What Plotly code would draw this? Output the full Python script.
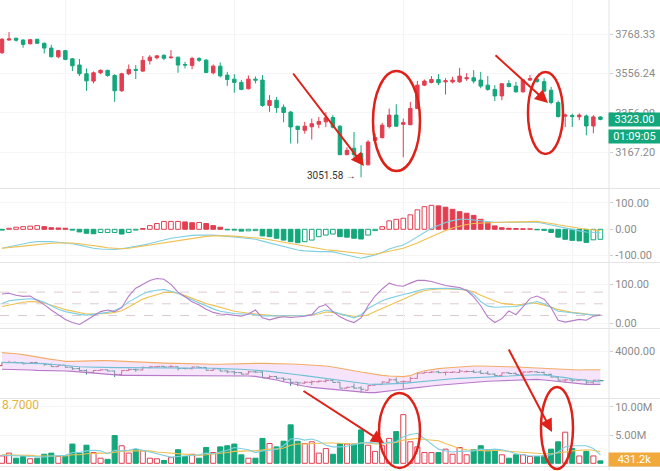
import plotly.graph_objects as go
import numpy as np

# ---------------- data ----------------
idx = list(range(86))

opens = [3666,3735,3745,3735,3715,3739,3717,3691,3644,3677,
         3633,3600,3554,3516,3559,3572,3545,3466,3554,3577,
         3568,3623,3639,3652,3639,3642,3603,3598,3635,3626,
         3559,3594,3547,3526,3509,3476,3526,3521,3392,3418,
         3383,3359,3290,3270,3287,3299,3311,3332,3290,3155,
         3185,3160,3108,3222,3235,3288,3344,3299,3297,3377,
         3495,3509,3524,3512,3512,3512,3528,3533,3521,3495,
         3473,3440,3503,3490,3461,3521,3526,3513,3469,3406,
         3339,3342,3336,3340,3291,3335]
highs = [3746,3779,3748,3739,3741,3742,3722,3709,3680,3680,
         3637,3632,3582,3566,3577,3575,3552,3559,3603,3600,
         3648,3653,3653,3657,3680,3644,3617,3644,3642,3632,
         3603,3614,3564,3552,3521,3545,3540,3547,3444,3434,
         3397,3365,3290,3311,3327,3335,3358,3344,3295,3189,
         3262,3199,3223,3254,3306,3377,3398,3327,3410,3517,
         3524,3542,3552,3531,3538,3585,3557,3573,3564,3542,
         3495,3504,3521,3512,3526,3547,3542,3531,3486,3417,
         3352,3352,3353,3347,3344,3339]
lows = [3659,3732,3726,3693,3711,3713,3662,3641,3636,3626,
        3568,3542,3466,3504,3552,3538,3410,3461,3547,3526,
        3564,3603,3630,3626,3635,3559,3582,3578,3617,3557,
        3551,3535,3491,3456,3469,3473,3504,3385,3360,3355,
        3309,3207,3207,3254,3226,3280,3285,3279,3152,3152,
        3141,3051.58,3106,3214,3231,3279,3287,3143,3295,3376,
        3490,3504,3495,3447,3504,3507,3517,3504,3479,3466,
        3414,3418,3484,3456,3456,3517,3507,3458,3398,3332,
        3286,3286,3319,3246,3256,3319]
closes = [3739,3741,3734,3711,3737,3717,3691,3644,3677,3630,
          3596,3554,3517,3559,3572,3545,3466,3554,3577,3572,
          3625,3642,3649,3636,3642,3600,3600,3635,3625,3561,
          3594,3543,3524,3509,3473,3526,3521,3392,3417,3381,
          3357,3286,3274,3290,3302,3313,3331,3285,3155,3175,
          3155,3129,3214,3235,3295,3344,3290,3307,3377,3495,
          3516,3524,3507,3517,3521,3542,3533,3516,3490,3473,
          3440,3502,3488,3461,3522,3529,3514,3464,3407,3337,
          3344,3337,3344,3291,3335,3323]

price_ticks = [3167.20, 3356.09, 3556.24, 3768.33]
price_tick_text = ["3167.20", "3356.09", "3556.24", "3768.33"]

macd_hist = [-3,4,8,10,12,14,10,6,5,4,
             -3,-10,-15,-17,-12,-12,-12,-18,-12,-3,
             3,14,22,30,30,30,28,25,26,22,
             14,8,-2,-3,-7,-6,-5,-25,-28,-34,
             -41,-47,-51,-47,-41,-28,-22,-18,-28,-30,
             -34,-37,-22,-5,10,32,38,42,55,74,
             86,91,89,84,76,67,61,53,38,27,
             13,6,4,3,2,2,-2,-4,-12,-30,
             -38,-42,-44,-50,-40,-38]
macd_dif = [-72,-66,-60,-55,-50,-47,-46,-47,-49,-51,
            -55,-60,-66,-72,-75,-76,-77,-74,-70,-65,
            -60,-54,-47,-40,-34,-30,-26,-23,-22,-21,
            -22,-24,-26,-29,-32,-35,-38,-45,-52,-60,
            -66,-74,-79,-82,-84,-85,-85,-86,-92,-98,
            -104,-110,-104,-98,-88,-75,-66,-60,-45,-30,
            -12,4,15,26,33,38,38,35,33,30,
            27,27,27,27,28,29,27,22,16,10,
            4,-2,-6,-10,-12,-13]
macd_dea = [-72,-70,-67,-64,-61,-58,-55,-53,-52,-51,
            -52,-55,-58,-62,-66,-70,-73,-74,-72,-68,
            -64,-60,-55,-50,-46,-42,-38,-34,-30,-27,
            -25,-24,-25,-26,-28,-30,-32,-35,-40,-45,
            -50,-55,-60,-65,-70,-74,-78,-80,-83,-86,
            -90,-93,-95,-95,-90,-84,-78,-72,-63,-52,
            -40,-28,-15,-5,5,12,18,22,24,26,
            26,27,27,27,28,29,30,27,22,17,
            12,8,4,0,-3,-5]
macd_ticks = [-100, 0, 100]
macd_tick_text = ["-100.00", "0.00", "100.00"]

kdj_k = [51,58,60,61,63,60,54,45,36,30,
         26,23,21,23,26,28,33,41,55,66,
         75,82,85,87,82,77,68,60,51,43,
         37,31,28,25,24,24,22,19,19,19,
         19,19,19,20,22,28,34,30,24,19,
         14,22,38,48,58,64,70,74,78,83,
         88,89,90,90,89,88,86,74,56,44,
         41,42,43,43,47,51,56,50,40,31,
         29,27,25,23,21,21]
kdj_d = [43,47,51,54,56,55,52,47,41,35,
         31,27,24,24,24,25,28,32,42,53,
         62,68,73,79,80,77,71,64,57,51,
         46,40,36,31,28,26,24,22,20,19,
         19,19,19,20,22,24,29,28,24,21,
         18,18,22,30,38,47,55,63,71,78,
         84,86,88,88,88,87,85,81,72,64,
         57,51,49,47,49,52,51,47,42,35,
         31,28,26,23,21,21]
kdj_j = [75,77,72,69,70,60,48,34,22,10,
         2,-3,8,18,30,34,30,40,70,90,
         100,110,115,113,100,80,68,55,47,36,
         28,24,23,20,18,24,34,14,9,14,
         17,15,17,18,22,42,48,30,17,8,
         2,14,45,70,88,103,97,95,103,110,
         110,107,102,97,94,92,84,68,45,16,
         2,12,32,22,42,64,70,62,40,8,
         3,6,10,8,18,21]
kdj_ticks = [0, 100]
kdj_tick_text = ["0.00", "100.00"]
kdj_levels = [20, 50, 80]

boll_upper = [3962,3954,3939,3917,3886,3856,3833,3810,3788,3765,
              3765,3772,3780,3780,3780,3780,3772,3765,3757,3757,
              3750,3742,3734,3727,3719,3719,3712,3704,3697,3697,
              3697,3697,3704,3712,3719,3719,3719,3719,3719,3719,
              3712,3704,3697,3689,3681,3674,3659,3636,3613,3583,
              3552,3522,3492,3469,3446,3431,3416,3416,3439,3507,
              3552,3583,3598,3613,3628,3643,3651,3659,3659,3659,
              3659,3651,3643,3636,3628,3621,3613,3598,3583,3575,
              3568,3568,3568,3575,3575,3575]
boll_mid = [3742,3742,3734,3727,3719,3719,3712,3697,3681,3666,
            3651,3643,3636,3628,3628,3628,3621,3621,3621,3621,
            3621,3621,3621,3621,3613,3613,3613,3613,3606,3606,
            3606,3598,3598,3590,3583,3575,3568,3552,3537,3522,
            3507,3484,3461,3439,3416,3393,3370,3348,3325,3302,
            3279,3264,3249,3241,3241,3249,3257,3264,3279,3302,
            3325,3340,3355,3363,3370,3378,3386,3393,3401,3408,
            3416,3423,3431,3439,3446,3454,3461,3454,3439,3416,
            3393,3370,3348,3325,3310,3295]
boll_lower = [3583,3583,3575,3568,3568,3560,3560,3552,3552,3545,
              3537,3522,3507,3492,3477,3461,3454,3446,3446,3446,
              3446,3446,3446,3446,3446,3446,3446,3446,3446,3439,
              3439,3439,3439,3431,3431,3431,3423,3401,3370,3340,
              3302,3264,3226,3196,3173,3158,3143,3128,3105,3082,
              3067,3052,3052,3052,3067,3082,3105,3128,3150,3173,
              3188,3203,3219,3234,3249,3264,3279,3295,3302,3310,
              3317,3325,3332,3340,3348,3355,3355,3340,3325,3302,
              3279,3264,3249,3241,3241,3241]
mini_ticks = [4000]
mini_tick_text = ["4000.00"]

volume_m = [1.3,1.8,0.9,1.2,0.8,0.9,1.6,1.8,1.2,1.3,
            3.4,1.8,3.2,1.9,0.9,0.7,4.9,3.1,1.8,2.4,
            2.2,0.9,0.8,0.5,1.0,2.4,1.2,1.6,0.9,2.8,
            1.9,2.9,3.1,3.4,1.5,0.9,0.9,4.4,3.5,2.9,
            3.9,6.8,3.9,3.5,3.8,1.8,2.6,1.6,3.5,3.4,
            3.4,5.9,3.2,2.1,3.1,4.4,5.6,8.6,3.8,2.9,
            1.9,1.9,1.9,2.5,1.6,2.8,1.5,2.4,3.1,2.4,
            2.4,1.5,0.9,1.5,1.5,1.2,1.2,1.3,2.5,3.8,
            5.5,2.6,1.3,2.1,1.3,0.4312]
vol_ma_fast = [1.4,1.4,1.3,1.3,1.2,1.1,1.1,1.3,1.3,1.4,
               1.9,1.9,2.2,2.3,2.2,1.7,2.3,2.2,2.3,2.6,
               2.3,2.0,1.6,1.3,1.1,1.2,1.3,1.3,1.5,1.8,
               1.7,2.0,2.3,2.8,2.6,2.4,1.9,2.2,2.3,2.5,
               3.1,4.3,4.4,4.1,4.3,3.9,3.2,2.9,2.9,3.0,
               3.3,3.6,3.7,3.6,3.5,3.7,3.8,4.7,5.1,5.3,
               4.4,3.4,2.5,2.2,2.0,2.1,2.1,2.2,2.5,2.4,
               2.5,2.4,2.1,1.7,1.5,1.3,1.3,1.3,1.5,2.0,
               2.9,3.1,3.1,3.1,2.6,1.5]
vol_ma_slow = [1.5,1.5,1.4,1.4,1.4,1.3,1.3,1.3,1.3,1.3,
               1.5,1.5,1.7,1.8,1.8,1.8,2.0,2.1,2.2,2.2,
               2.2,2.2,2.0,1.9,1.8,1.7,1.5,1.4,1.4,1.5,
               1.6,1.7,1.9,2.1,2.2,2.2,2.2,2.4,2.5,2.5,
               2.7,3.2,3.4,3.4,3.5,3.6,3.6,3.6,3.5,3.5,
               3.4,3.6,3.6,3.4,3.4,3.6,3.7,4.1,4.3,4.4,
               4.2,4.1,4.0,3.5,3.0,2.6,2.4,2.3,2.3,2.2,
               2.3,2.2,2.1,2.0,1.9,1.8,1.8,1.7,1.7,1.8,
               2.0,2.2,2.3,2.4,2.3,2.1]
vol_ticks = [5e6, 10e6]
vol_tick_text = ["5.00M", "10.00M"]

last_price_text = "3323.00"
countdown_text = "01:09:05"
last_volume_text = "431.2k"
low_label_text = "3051.58 \u2192"
vol_header_text = "8.7000"

# ---------------- styles ----------------
RED = "#e23e50"
GREEN = "#13a77b"
CYAN = "#7fcfe3"
YELLOW = "#f0c050"
PURPLE = "#b77ac9"
ORANGE_BAND = "#f3ad6a"
ANN_RED = "#de2119"
GRID = "#f3f3f3"
SEP = "#e4e4e4"
TICKC = "#8c8c8c"
FONT = "Roboto"

W, H = 660, 471
PW, PH = 609, 467  # plot area in px


def py(p):
    return (PH - p) / PH


def px(p):
    return p / PW


vol = [v * 1e6 for v in volume_m]
vfast = [v * 1e6 for v in vol_ma_fast]
vslow = [v * 1e6 for v in vol_ma_slow]
up = [c >= o for o, c in zip(opens, closes)]

fig = go.Figure()

# main candles
fig.add_trace(go.Candlestick(
    x=idx, open=opens, high=highs, low=lows, close=closes,
    increasing=dict(line=dict(color=RED, width=1), fillcolor=RED),
    decreasing=dict(line=dict(color=GREEN, width=1), fillcolor=GREEN),
    whiskerwidth=0, xaxis="x", yaxis="y", hoverinfo="skip"))

# MACD histogram
m_fill, m_line = [], []
prev = None
for v in macd_hist:
    col = RED if v >= 0 else GREEN
    filled = prev is None or v < prev
    m_fill.append(col if filled else "white")
    m_line.append(col)
    prev = v
fig.add_trace(go.Bar(x=idx, y=macd_hist, width=0.66,
                     marker=dict(color=m_fill, line=dict(color=m_line, width=1)),
                     xaxis="x2", yaxis="y2", hoverinfo="skip"))
fig.add_trace(go.Scatter(x=idx, y=macd_dif, mode="lines", line=dict(color=CYAN, width=1.1),
                         xaxis="x2", yaxis="y2", hoverinfo="skip"))
fig.add_trace(go.Scatter(x=idx, y=macd_dea, mode="lines", line=dict(color=YELLOW, width=1.1),
                         xaxis="x2", yaxis="y2", hoverinfo="skip"))

# KDJ
fig.add_trace(go.Scatter(x=idx, y=kdj_d, mode="lines", line=dict(color=YELLOW, width=1.1),
                         xaxis="x3", yaxis="y3", hoverinfo="skip"))
fig.add_trace(go.Scatter(x=idx, y=kdj_k, mode="lines", line=dict(color=CYAN, width=1.1),
                         xaxis="x3", yaxis="y3", hoverinfo="skip"))
fig.add_trace(go.Scatter(x=idx, y=kdj_j, mode="lines", line=dict(color=PURPLE, width=1.1),
                         xaxis="x3", yaxis="y3", hoverinfo="skip"))

# Bollinger + mini OHLC
fig.add_trace(go.Scatter(x=idx, y=boll_upper, mode="lines", line=dict(color=ORANGE_BAND, width=1.1),
                         xaxis="x4", yaxis="y4", hoverinfo="skip"))
fig.add_trace(go.Scatter(x=idx, y=boll_lower, mode="lines", line=dict(color=PURPLE, width=1.1),
                         fill="tonexty", fillcolor="rgba(232,190,242,0.40)",
                         xaxis="x4", yaxis="y4", hoverinfo="skip"))
fig.add_trace(go.Scatter(x=idx, y=boll_mid, mode="lines", line=dict(color="#6fc0d6", width=1.1),
                         xaxis="x4", yaxis="y4", hoverinfo="skip"))
fig.add_trace(go.Ohlc(x=idx, open=opens, high=highs, low=lows, close=closes,
                      increasing=dict(line=dict(color="#b54565", width=1)),
                      decreasing=dict(line=dict(color="#2b7f74", width=1)),
                      tickwidth=0.45, xaxis="x4", yaxis="y4", hoverinfo="skip"))

# volume
v_fill = ["white" if u else GREEN for u in up]
v_line = [RED if u else GREEN for u in up]
fig.add_trace(go.Bar(x=idx, y=vol, width=0.72,
                     marker=dict(color=v_fill, line=dict(color=v_line, width=1)),
                     xaxis="x5", yaxis="y5", hoverinfo="skip"))
fig.add_trace(go.Scatter(x=idx, y=vslow, mode="lines", line=dict(color=YELLOW, width=1.1),
                         xaxis="x5", yaxis="y5", hoverinfo="skip"))
fig.add_trace(go.Scatter(x=idx, y=vfast, mode="lines", line=dict(color=CYAN, width=1.1),
                         xaxis="x5", yaxis="y5", hoverinfo="skip"))

# ---------------- layout ----------------
xr = [-0.284, 86.22]
xcommon = dict(range=xr, showticklabels=False, showgrid=True, gridcolor=GRID,
               tickvals=[9, 33, 57, 81], zeroline=False, showline=False,
               rangeslider=dict(visible=False), fixedrange=True)
ycommon = dict(side="right", showgrid=True, gridcolor="#f6f6f6", zeroline=False,
               showline=False, ticks="outside", ticklen=3, tickcolor="#cfcfcf",
               tickfont=dict(family=FONT, size=11, color=TICKC), fixedrange=True)

lay = dict(width=W, height=H, margin=dict(l=0, r=W - PW, t=0, b=H - PH),
           paper_bgcolor="white", plot_bgcolor="white", showlegend=False,
           barmode="overlay", font=dict(family=FONT))

doms = {
    "": [py(188), 1.0],
    "2": [py(262), py(189)],
    "3": [py(328), py(263)],
    "4": [py(398), py(329)],
    "5": [0.0, py(398)],
}
for k, d in doms.items():
    xa = dict(xcommon, domain=[0, 1], anchor="y" + k)
    if k:
        xa["matches"] = "x"
    lay["xaxis" + k] = xa
    lay["yaxis" + k] = dict(ycommon, domain=d, anchor="x" + k)

lay["yaxis"].update(type="log", range=[3.477655, 3.597900],
                    tickvals=price_ticks, ticktext=price_tick_text)
lay["yaxis2"].update(range=[-124.3, 153.2], tickvals=macd_ticks, ticktext=macd_tick_text)
lay["yaxis3"].update(range=[-12, 154.6], tickvals=kdj_ticks, ticktext=kdj_tick_text)
lay["yaxis4"].update(range=[2930.4, 4500.7], tickvals=mini_ticks, ticktext=mini_tick_text)
lay["yaxis5"].update(range=[-0.654e6, 11.54e6], tickvals=vol_ticks, ticktext=vol_tick_text)

fig.update_layout(**lay)

shapes = []
# panel separators
for p in [188.5, 262.5, 328.5, 398.5]:
    shapes.append(dict(type="line", xref="paper", yref="paper", x0=0, x1=W / PW,
                       y0=py(p), y1=py(p), line=dict(color=SEP, width=1)))
shapes.append(dict(type="line", xref="paper", yref="paper", x0=0, x1=W / PW,
                   y0=py(466.5), y1=py(466.5), line=dict(color=SEP, width=1)))
# right axis line
shapes.append(dict(type="line", xref="paper", yref="paper", x0=1, x1=1,
                   y0=py(470), y1=1, line=dict(color=SEP, width=1)))
# KDJ reference levels
for lv in kdj_levels:
    shapes.append(dict(type="line", xref="paper", yref="y3", x0=0, x1=1, y0=lv, y1=lv,
                       line=dict(color="#dccbcf", width=1, dash="dash"), layer="below"))
# red ellipses
for (x0, x1, y0, y1) in [(373, 420, 71, 171), (528, 563, 72, 154),
                         (379, 420, 393, 468), (541, 573, 387, 469)]:
    shapes.append(dict(type="circle", xref="paper", yref="paper",
                       x0=px(x0), x1=px(x1), y0=py(y1), y1=py(y0),
                       line=dict(color=ANN_RED, width=2.5), layer="above"))
fig.update_layout(shapes=shapes)

ann = []
boxx = (PW + W) / 2 / PW
boxw = W - PW
# value boxes on the right scale (annotations with a background cover the tick labels)
for (txt, cy, col) in [(last_price_text, 119, GREEN), (countdown_text, 136.5, GREEN),
                       (last_volume_text, 459.5, "#f2a93b")]:
    ann.append(dict(xref="paper", yref="paper", x=boxx, y=py(cy), xanchor="center",
                    yanchor="middle", text=txt, showarrow=False, bgcolor=col,
                    width=boxw, height=13, borderpad=0, align="center",
                    font=dict(family=FONT, size=11, color="white")))
ann.append(dict(xref="paper", yref="paper", x=px(358), y=py(176), xanchor="right",
                yanchor="middle", text=low_label_text, showarrow=False,
                font=dict(family=FONT, size=10, color="#333333")))
ann.append(dict(xref="paper", yref="paper", x=0, y=py(405), xanchor="left",
                yanchor="middle", text=vol_header_text, showarrow=False,
                font=dict(family=FONT, size=12, color="#e2b43c")))
# red arrows (tail -> head)
for (tx, ty, hx, hy) in [(292, 72, 364, 166), (494, 54, 548, 103),
                         (302, 390, 384, 443), (508, 348, 552, 432)]:
    ann.append(dict(xref="paper", yref="paper", x=px(hx), y=py(hy),
                    ax=tx - hx, ay=ty - hy, axref="pixel", ayref="pixel",
                    text="", showarrow=True, arrowhead=2, arrowsize=1.3,
                    arrowwidth=2, arrowcolor=ANN_RED))
fig.update_layout(annotations=ann)

fig.write_html("out.html", config={"displayModeBar": False, "staticPlot": True})

# remove the default page margin so the figure sits at the window's top-left corner
with open("out.html", "r", encoding="utf-8") as f:
    html = f.read()
html = html.replace("<head>", "<head><style>html,body{margin:0;padding:0;overflow:hidden;}</style>", 1)
with open("out.html", "w", encoding="utf-8") as f:
    f.write(html)
